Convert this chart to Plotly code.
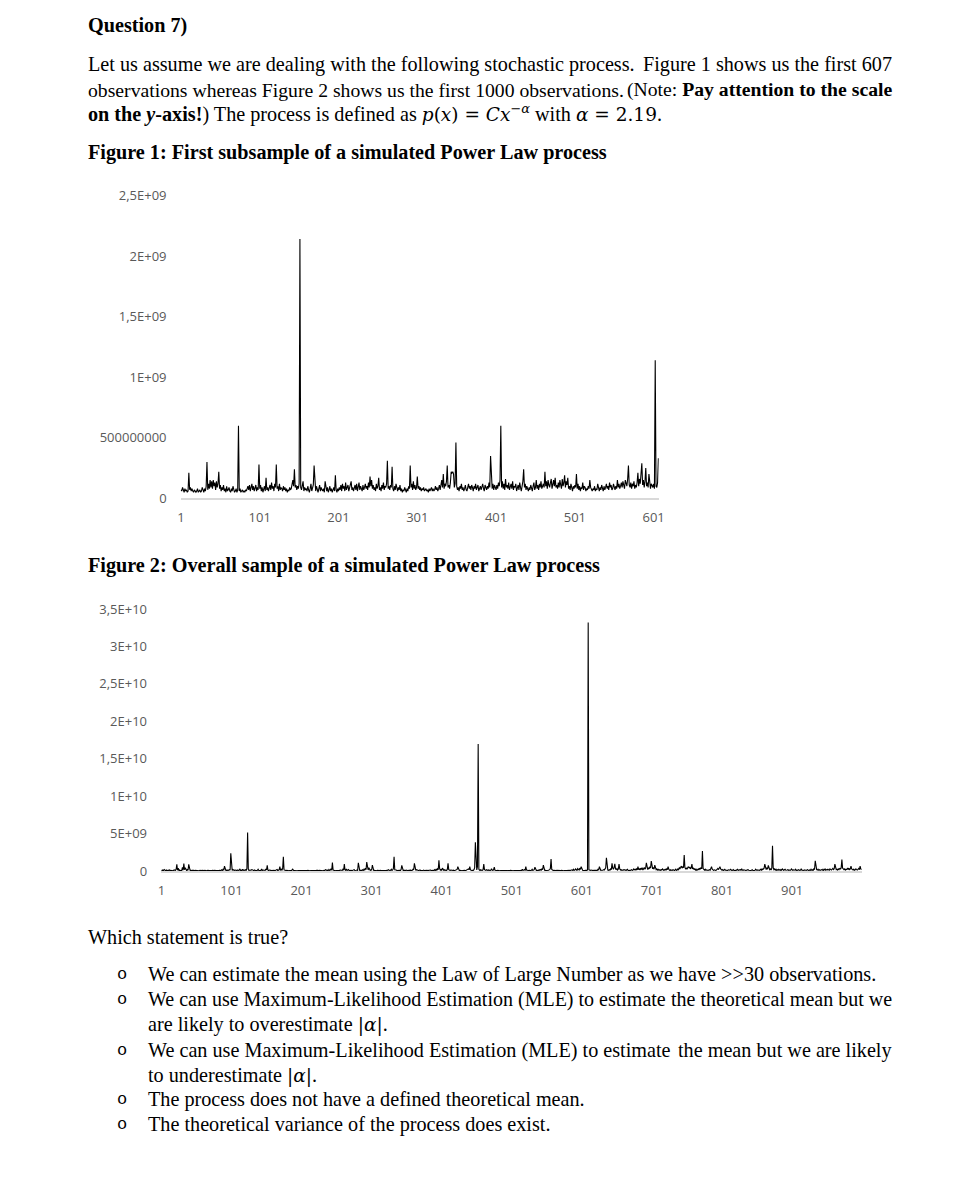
import plotly.graph_objects as go

W, H = 979, 1196

# ---------------- DATA ----------------
# Figure 1: first 607 observations, values in units of 1e7
fig1_values_e7 = [
    7, 6, 9, 6, 5, 8, 6, 7, 5, 6, 21, 7, 9, 6, 8, 6, 5, 7, 6, 5,
    6, 8, 5, 6, 7, 5, 6, 9, 6, 5, 8, 6, 10, 30, 7, 12, 8, 15, 9, 14,
    8, 15, 10, 13, 7, 14, 9, 12, 22, 8, 11, 6, 9, 7, 11, 6, 8, 5, 10, 6,
    7, 9, 6, 5, 8, 6, 10, 7, 5, 6, 8, 5, 7, 60, 6, 8, 5, 6, 7, 5,
    6, 5, 7, 6, 8, 10, 7, 11, 6, 9, 12, 7, 10, 6, 8, 11, 6, 9, 7, 28,
    8, 11, 6, 9, 5, 7, 10, 6, 17, 7, 9, 6, 8, 11, 7, 13, 8, 10, 6, 12,
    9, 28, 8, 10, 6, 12, 7, 9, 8, 6, 10, 7, 9, 6, 8, 5, 7, 6, 9, 7,
    8, 12, 15, 10, 24, 9, 11, 7, 10, 8, 12, 214, 9, 7, 10, 14, 6, 9, 7, 8,
    6, 10, 7, 5, 8, 12, 6, 9, 11, 27, 8, 6, 10, 7, 5, 8, 11, 6, 9, 7,
    6, 8, 5, 14, 7, 6, 9, 5, 7, 10, 6, 8, 5, 7, 9, 6, 19, 7, 5, 8,
    6, 9, 7, 11, 6, 12, 8, 10, 6, 13, 7, 9, 11, 6, 8, 10, 14, 7, 9, 6,
    8, 11, 7, 12, 6, 9, 13, 7, 10, 8, 6, 11, 7, 9, 12, 8, 10, 7, 13, 9,
    18, 10, 15, 8, 11, 7, 9, 6, 12, 8, 10, 17, 7, 9, 6, 11, 8, 13, 7, 10,
    9, 12, 31, 8, 10, 7, 11, 9, 26, 8, 6, 10, 7, 12, 8, 6, 9, 7, 11, 6,
    8, 5, 7, 6, 9, 7, 5, 8, 6, 10, 8, 27, 9, 12, 7, 14, 8, 11, 7, 9,
    18, 8, 10, 7, 9, 6, 8, 7, 9, 6, 7, 8, 6, 7, 5, 8, 6, 7, 9, 6,
    8, 6, 7, 10, 7, 9, 6, 8, 11, 7, 10, 15, 9, 20, 8, 12, 10, 14, 27, 9,
    11, 8, 13, 22, 21, 22, 20, 9, 12, 46, 10, 7, 9, 6, 10, 8, 12, 7, 9, 6,
    8, 11, 7, 6, 9, 12, 8, 10, 7, 11, 9, 6, 10, 8, 12, 7, 9, 11, 6, 8,
    10, 7, 9, 12, 8, 6, 11, 9, 7, 10, 8, 13, 9, 35, 10, 8, 12, 7, 11, 9,
    7, 11, 8, 13, 10, 15, 60, 9, 14, 8, 12, 7, 16, 9, 11, 8, 13, 7, 10, 12,
    8, 14, 7, 10, 9, 12, 6, 8, 11, 7, 13, 9, 6, 10, 14, 24, 9, 12, 7, 10,
    8, 6, 9, 7, 11, 8, 6, 10, 13, 7, 9, 15, 8, 11, 7, 12, 9, 14, 8, 10,
    12, 9, 22, 10, 14, 8, 15, 11, 9, 13, 16, 8, 12, 15, 10, 17, 9, 11, 8, 13,
    9, 15, 11, 8, 16, 10, 13, 19, 9, 14, 11, 17, 8, 10, 7, 12, 9, 6, 10, 8,
    11, 9, 20, 8, 12, 7, 10, 6, 9, 8, 13, 7, 10, 9, 6, 8, 7, 10, 8, 15,
    9, 7, 6, 8, 7, 10, 6, 8, 7, 12, 8, 6, 9, 7, 11, 8, 6, 10, 7, 9,
    12, 8, 10, 7, 13, 9, 11, 7, 8, 12, 9, 7, 10, 8, 15, 9, 12, 8, 10, 13,
    9, 14, 11, 8, 15, 12, 10, 16, 27, 11, 9, 13, 8, 12, 10, 14, 8, 11, 9, 13,
    21, 10, 16, 12, 18, 29, 11, 15, 9, 14, 25, 10, 13, 9, 20, 11, 8, 12, 10, 9,
    12, 8, 114, 10, 9, 13, 33,
]

# Figure 2: first 1000 observations, values in units of 1e7
fig2_values_e7 = [
    12, 8, 15, 6, 22, 9, 7, 14, 5, 10, 8, 18, 6, 11, 9, 7, 13, 5, 16, 8,
    10, 25, 90, 12, 40, 8, 15, 6, 11, 9, 50, 14, 100, 18, 45, 10, 7, 20, 12, 90,
    14, 8, 11, 6, 9, 13, 7, 5, 10, 8, 6, 12, 7, 9, 5, 11, 6, 8, 10, 7,
    5, 9, 12, 6, 8, 5, 10, 7, 14, 6, 9, 5, 8, 11, 6, 7, 10, 5, 9, 8,
    6, 10, 7, 12, 5, 9, 18, 8, 25, 11, 67, 14, 9, 12, 7, 15, 10, 20, 13, 237,
    15, 9, 22, 11, 8, 14, 6, 10, 7, 16, 9, 12, 30, 8, 13, 7, 25, 10, 14, 9,
    18, 11, 35, 517, 22, 9, 14, 7, 12, 20, 8, 11, 6, 15, 9, 13, 7, 10, 24, 8,
    12, 6, 10, 28, 8, 14, 7, 11, 9, 30, 16, 76, 12, 8, 15, 6, 10, 7, 9, 5,
    8, 11, 6, 14, 9, 22, 7, 12, 18, 60, 10, 25, 14, 35, 191, 16, 9, 12, 7, 10,
    6, 9, 5, 8, 7, 12, 6, 30, 9, 5, 8, 6, 10, 7, 5, 9, 6, 8, 5, 7,
    6, 5, 8, 7, 5, 9, 6, 5, 7, 10, 6, 8, 5, 7, 6, 9, 5, 8, 6, 7,
    9, 6, 12, 7, 5, 10, 8, 6, 14, 7, 9, 5, 11, 8, 18, 7, 10, 13, 6, 22,
    9, 15, 30, 12, 116, 14, 8, 11, 6, 9, 7, 12, 6, 10, 8, 14, 7, 11, 9, 25,
    12, 94, 18, 10, 28, 9, 14, 22, 8, 11, 7, 10, 6, 13, 8, 20, 9, 6, 12, 15,
    9, 111, 14, 8, 12, 6, 10, 18, 7, 25, 11, 40, 20, 120, 35, 15, 45, 12, 9, 18,
    14, 80, 12, 8, 10, 6, 9, 5, 11, 7, 8, 6, 10, 5, 9, 7, 6, 12, 8, 5,
    9, 6, 14, 8, 20, 10, 7, 12, 25, 9, 15, 35, 191, 18, 10, 14, 8, 11, 6, 9,
    12, 7, 22, 76, 15, 9, 12, 6, 10, 8, 14, 7, 9, 11, 6, 8, 13, 7, 10, 25,
    18, 103, 14, 9, 20, 8, 12, 6, 10, 15, 7, 11, 9, 6, 14, 8, 10, 5, 9, 12,
    7, 10, 6, 9, 14, 8, 11, 6, 10, 7, 20, 9, 25, 12, 30, 18, 143, 35, 14, 22,
    12, 40, 15, 10, 18, 9, 14, 8, 25, 103, 20, 12, 9, 14, 7, 11, 8, 13, 6, 10,
    8, 15, 22, 60, 14, 9, 12, 7, 10, 6, 9, 12, 7, 10, 6, 14, 9, 20, 30, 18,
    60, 16, 10, 8, 12, 9, 20, 45, 384, 30, 15, 60, 1698, 25, 12, 18, 9, 14, 11, 20,
    94, 20, 14, 10, 18, 12, 8, 15, 10, 7, 12, 30, 14, 9, 20, 53, 12, 8, 11, 7,
    10, 6, 9, 5, 8, 7, 12, 6, 9, 8, 5, 10, 7, 6, 9, 5, 8, 6, 11, 7,
    6, 9, 5, 8, 7, 10, 6, 12, 8, 5, 9, 7, 6, 10, 8, 25, 9, 14, 20, 12,
    60, 14, 9, 11, 7, 10, 6, 8, 12, 25, 9, 15, 20, 53, 12, 8, 10, 6, 9, 18,
    12, 22, 14, 30, 20, 80, 15, 10, 12, 8, 9, 6, 10, 14, 20, 35, 160, 22, 12, 9,
    11, 7, 9, 6, 10, 8, 6, 9, 5, 8, 7, 10, 6, 9, 5, 8, 12, 7, 6, 9,
    8, 6, 10, 7, 12, 9, 18, 8, 25, 11, 14, 30, 12, 9, 35, 20, 14, 40, 22, 60,
    18, 12, 9, 14, 8, 11, 7, 10, 15, 3320, 20, 12, 9, 14, 8, 11, 7, 10, 9, 12,
    8, 15, 10, 25, 18, 60, 14, 9, 12, 8, 11, 20, 14, 30, 45, 178, 25, 14, 10, 18,
    12, 30, 20, 103, 40, 25, 50, 98, 30, 22, 35, 15, 28, 94, 30, 14, 20, 10, 15, 12,
    20, 10, 14, 8, 12, 25, 9, 15, 11, 8, 13, 20, 10, 14, 30, 18, 25, 12, 35, 15,
    60, 20, 30, 15, 40, 22, 45, 14, 30, 50, 25, 40, 111, 35, 20, 45, 30, 60, 40, 134,
    45, 30, 50, 25, 80, 40, 20, 30, 15, 25, 12, 18, 10, 20, 14, 30, 12, 9, 18, 25,
    14, 30, 20, 60, 25, 12, 18, 9, 14, 10, 20, 12, 8, 15, 25, 10, 14, 30, 20, 45,
    35, 50, 67, 40, 55, 45, 214, 50, 30, 40, 25, 45, 60, 40, 55, 30, 45, 94, 30, 40,
    20, 35, 14, 25, 10, 18, 30, 15, 40, 25, 50, 30, 267, 35, 20, 14, 25, 10, 18, 12,
    9, 14, 20, 12, 30, 60, 25, 14, 10, 18, 12, 9, 14, 25, 35, 20, 40, 60, 30, 18,
    12, 20, 9, 15, 25, 12, 8, 14, 10, 18, 9, 12, 25, 14, 8, 11, 20, 9, 14, 10,
    8, 12, 25, 10, 14, 9, 20, 12, 30, 15, 10, 18, 9, 12, 8, 14, 10, 20, 12, 9,
    14, 8, 12, 18, 10, 15, 9, 12, 25, 14, 10, 18, 12, 9, 15, 25, 12, 30, 20, 35,
    40, 94, 30, 20, 45, 25, 76, 35, 20, 30, 14, 40, 338, 45, 20, 30, 14, 25, 10, 18,
    12, 25, 14, 9, 20, 12, 30, 15, 10, 18, 25, 12, 9, 14, 20, 10, 15, 8, 12, 30,
    14, 10, 18, 9, 12, 25, 8, 14, 10, 20, 12, 9, 15, 30, 12, 8, 14, 10, 18, 12,
    9, 14, 20, 12, 8, 15, 10, 25, 12, 18, 9, 30, 25, 138, 30, 20, 14, 25, 12, 18,
    10, 14, 20, 12, 25, 9, 15, 30, 12, 20, 14, 25, 18, 12, 30, 20, 14, 25, 35, 20,
    30, 94, 35, 20, 25, 14, 30, 20, 40, 25, 45, 156, 40, 25, 20, 30, 14, 25, 20, 35,
    25, 40, 20, 30, 67, 30, 20, 14, 25, 12, 18, 30, 20, 14, 25, 35, 20, 67, 30, 20,
]

fig1_ytick_vals = [0, 5e8, 1e9, 1.5e9, 2e9, 2.5e9]
fig1_ytick_text = ["0", "500000000", "1E+09", "1,5E+09", "2E+09", "2,5E+09"]
fig1_xtick_vals = [1, 101, 201, 301, 401, 501, 601]

fig2_ytick_vals = [0, 5e9, 1e10, 1.5e10, 2e10, 2.5e10, 3e10, 3.5e10]
fig2_ytick_text = ["0", "5E+09", "1E+10", "1,5E+10", "2E+10", "2,5E+10", "3E+10", "3,5E+10"]
fig2_xtick_vals = [1, 101, 201, 301, 401, 501, 601, 701, 801, 901]

# ---------------- FIGURE ----------------
# page-pixel -> paper helpers (small calibration of the photographed page)
def px(x):
    return ((x - 2.5) / 0.9904) / W

def py(y):
    return 1 - ((y - 8.4) / 0.9855) / H

fig = go.Figure()

fig1_x = list(range(1, len(fig1_values_e7) + 1))
fig1_y = [v * 1e7 for v in fig1_values_e7]
fig2_x = list(range(1, len(fig2_values_e7) + 1))
fig2_y = [v * 1e7 for v in fig2_values_e7]

fig.add_trace(go.Scatter(x=fig1_x, y=fig1_y, mode="lines",
                         line=dict(color="black", width=1.1),
                         xaxis="x", yaxis="y", showlegend=False, hoverinfo="skip"))
fig.add_trace(go.Scatter(x=fig2_x, y=fig2_y, mode="lines",
                         line=dict(color="black", width=1.1),
                         xaxis="x2", yaxis="y2", showlegend=False, hoverinfo="skip"))

tickfont = dict(family="Open Sans", size=13, color="#595959")

fig.update_layout(
    width=W, height=H,
    margin=dict(l=0, r=0, t=0, b=0),
    paper_bgcolor="white", plot_bgcolor="white",
    showlegend=False,
    xaxis=dict(domain=[px(180), px(658)], range=[0.5, 607.5],
               tickmode="array", tickvals=fig1_xtick_vals,
               showline=True, linecolor="#d9d9d9", linewidth=1.5,
               showgrid=False, zeroline=False, ticks="",
               ticklabelstandoff=7, tickfont=tickfont, anchor="y"),
    yaxis=dict(domain=[py(498), py(195)], range=[0, 2.5e9],
               tickmode="array", tickvals=fig1_ytick_vals, ticktext=fig1_ytick_text,
               showline=False, showgrid=False, zeroline=False, ticks="",
               ticklabelstandoff=13, tickfont=tickfont, anchor="x"),
    xaxis2=dict(domain=[px(160.5), px(861)], range=[0.5, 1000.5],
                tickmode="array", tickvals=fig2_xtick_vals,
                showline=True, linecolor="#d9d9d9", linewidth=1.5,
                showgrid=False, zeroline=False, ticks="",
                ticklabelstandoff=7, tickfont=tickfont, anchor="y2"),
    yaxis2=dict(domain=[py(871), py(608.7)], range=[0, 3.5e10],
                tickmode="array", tickvals=fig2_ytick_vals, ticktext=fig2_ytick_text,
                showline=False, showgrid=False, zeroline=False, ticks="",
                ticklabelstandoff=13, tickfont=tickfont, anchor="x2"),
)

SERIF = "Liberation Serif"
MONO = "Liberation Mono"

def txt(x, y, s, anchor="left", size=20.2, family=SERIF):
    fig.add_annotation(x=px(x), y=py(y), xref="paper", yref="paper",
                       text=s, showarrow=False, xanchor=anchor, yanchor="middle",
                       align=anchor, borderpad=0, borderwidth=0,
                       font=dict(family=family, size=size, color="black"))

def math(s):
    return '<span style="font-family:DejaVu Serif;font-size:18.5px">' + s + '</span>'

L = 87
R = 891
txt(L, 25, "<b>Question 7)</b>")
txt(L, 64, "Let us assume we are dealing with the following stochastic process.")
txt(R, 64, "Figure 1 shows us the first 607", anchor="right")
txt(L, 89, "observations whereas Figure 2 shows us the first 1000 observations.", size=19.7)
txt(R, 89, "(Note: <b>Pay attention to the scale</b>", anchor="right", size=19.7)
txt(L, 113, "<b>on the <i>y</i>-axis!</b>) The process is defined as "
            + math("<i>p</i>(<i>x</i>) = <i>Cx</i><sup>−<i>α</i></sup>")
            + " with " + math("<i>α</i> = 2.19") + ".")
txt(L, 152, "<b>Figure 1: First subsample of a simulated Power Law process</b>")
txt(L, 565, "<b>Figure 2: Overall sample of a simulated Power Law process</b>")
txt(L, 937, "Which statement is true?")

BX = 116
TX = 147
bullet_rows = [974, 999, 1050, 1100, 1125]
for by in bullet_rows:
    txt(BX, by, "o", family=MONO, size=17)

txt(TX, 974, "We can estimate the mean using the Law of Large Number as we have &gt;&gt;30 observations.")
txt(TX, 999, "We can use Maximum-Likelihood Estimation (MLE) to estimate", size=20)
txt(R, 999, "the theoretical mean but we", anchor="right", size=20)
txt(TX, 1024, "are likely to overestimate " + math("|<i>α</i>|") + ".")
txt(TX, 1050, "We can use Maximum-Likelihood Estimation (MLE) to estimate")
txt(R, 1050, "the mean but we are likely", anchor="right")
txt(TX, 1075, "to underestimate " + math("|<i>α</i>|") + ".")
txt(TX, 1100, "The process does not have a defined theoretical mean.")
txt(TX, 1125, "The theoretical variance of the process does exist.")

fig.write_html(
    "out.html",
    config={"displayModeBar": False, "staticPlot": True},
    post_script="document.body.style.margin='0px';document.body.style.padding='0px';"
                "document.documentElement.style.overflow='hidden';",
)
